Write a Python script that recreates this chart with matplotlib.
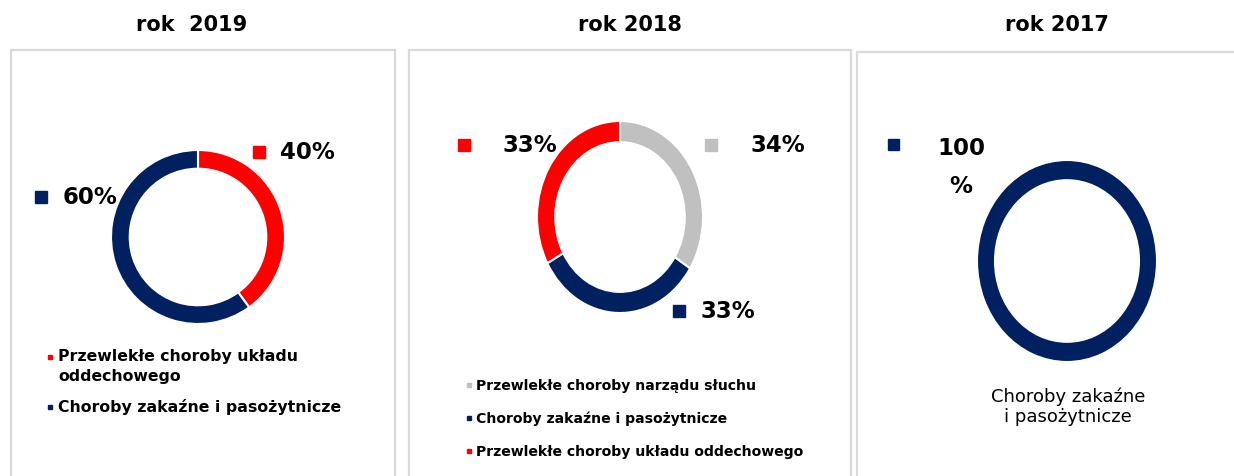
import matplotlib.pyplot as plt
from matplotlib.patches import Rectangle

NAVY = '#002060'
RED = '#ff0000'
GREY = '#c0c0c0'

years = ['rok  2019', 'rok 2018', 'rok 2017']

cats_2019 = ['Przewlekłe choroby układu\noddechowego', 'Choroby zakaźne i pasożytnicze']
vals_2019 = [40, 60]
cols_2019 = [RED, NAVY]

cats_2018 = ['Przewlekłe choroby narządu słuchu', 'Choroby zakaźne i pasożytnicze',
             'Przewlekłe choroby układu oddechowego']
vals_2018 = [34, 33, 33]
cols_2018 = [GREY, NAVY, RED]

cats_2017 = ['Choroby zakaźne\ni pasożytnicze']
vals_2017 = [100]
cols_2017 = [NAVY]

W, H = 1234, 477
fig = plt.figure(figsize=(W / 100, H / 100), dpi=100)


def px(x, y):
    # pixel coords (top-left origin) -> figure fraction
    return x / W, 1 - y / H


def donut(cx, cy, rx, ry, ring, vals, cols):
    ax = fig.add_axes([(cx - rx) / W, 1 - (cy + ry) / H, 2 * rx / W, 2 * ry / H])
    ax.pie(vals, colors=cols, startangle=90, counterclock=False, radius=1,
           wedgeprops=dict(width=ring, edgecolor='white', linewidth=1.5))
    ax.set_aspect('auto')
    ax.set_xlim(-1, 1)
    ax.set_ylim(-1, 1)
    ax.axis('off')
    return ax


def square(x, y, size, color):
    fig.patches.append(Rectangle(px(x, y + size), size / W, size / H, color=color,
                                 transform=fig.transFigure, figure=fig))


def value_label(x, y, text, color, sq=12, gap=33):
    square(x, y - sq / 2, sq, color)
    fig.text(*px(x + gap, y), text, fontsize=16.5, fontweight='bold',
             va='center', ha='left')


# panel frames
for x0, x1, top in [(11, 395, 51), (409, 851, 51), (857, 1250, 53)]:
    fig.patches.append(Rectangle(px(x0, H + 10), (x1 - x0) / W, (H + 10 - top) / H,
                                 fill=False, edgecolor='#d9d9d9', linewidth=1.6,
                                 transform=fig.transFigure, figure=fig))

# titles
for title, cx in zip(years, [192, 630, 1057]):
    fig.text(*px(cx, 25), title, fontsize=15, fontweight='bold', ha='center', va='center')

# 2019
donut(198, 238, 87, 87, 0.215, vals_2019, cols_2019)
value_label(253, 153, f'{vals_2019[0]}%', cols_2019[0], gap=27)
value_label(35, 198, f'{vals_2019[1]}%', cols_2019[1], gap=28)
for cat, col, y in zip(cats_2019, cols_2019, [358, 408]):
    square(48, y - 2, 4, col)
    fig.text(*px(58, y - 9), cat, fontsize=11.3, fontweight='bold', ha='left', va='top',
             linespacing=1.4)

# 2018
donut(620, 218, 83, 96, 0.22, vals_2018, cols_2018)
value_label(705, 146, f'{vals_2018[0]}%', cols_2018[0], gap=45)
value_label(673, 312, f'{vals_2018[1]}%', cols_2018[1], gap=27)
value_label(458, 146, f'{vals_2018[2]}%', cols_2018[2], gap=45)
for cat, col, y in zip(cats_2018, cols_2018, [386, 419, 452]):
    square(467, y - 2, 4, col)
    fig.text(*px(476, y), cat, fontsize=10.1, fontweight='bold', ha='left', va='center')

# 2017
donut(1067, 262, 90, 101, 0.2, vals_2017, cols_2017)
square(888, 140, 11, cols_2017[0])
fig.text(*px(961, 137), f'{vals_2017[0]}\n%', fontsize=16.5, fontweight='bold',
         ha='center', va='top', linespacing=1.85)
fig.text(*px(1068, 407), cats_2017[0], fontsize=13, ha='center', va='center',
         linespacing=1.15)

fig.savefig('out.png', dpi=100, facecolor='white')
